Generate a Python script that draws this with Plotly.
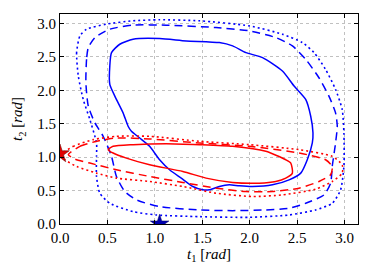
import plotly.graph_objects as go

# Contour outlines (t1, t2 in rad)
blue_solid_x = [1.05, 0.77, 0.63, 0.543, 0.525, 0.525, 0.578, 0.665, 0.718, 0.753, 0.84, 0.945, 1.05, 1.155, 1.278, 1.40, 1.505, 1.575, 1.68, 1.785, 1.89, 2.03, 2.24, 2.415, 2.538, 2.607, 2.66, 2.667, 2.643, 2.59, 2.468, 2.345, 2.135, 1.96, 1.82, 1.68, 1.33, 1.05]
blue_solid_y = [2.774, 2.764, 2.689, 2.564, 2.364, 2.088, 1.913, 1.663, 1.462, 1.387, 1.287, 1.162, 0.961, 0.811, 0.686, 0.561, 0.511, 0.511, 0.561, 0.586, 0.571, 0.561, 0.586, 0.661, 0.761, 0.961, 1.212, 1.362, 1.612, 1.863, 2.063, 2.288, 2.489, 2.564, 2.664, 2.714, 2.739, 2.774]

blue_dash_x = [0.298, 0.28, 0.273, 0.298, 0.368, 0.455, 0.543, 0.595, 0.683, 0.805, 1.05, 1.47, 1.82, 2.17, 2.415, 2.59, 2.783, 2.853, 2.87, 2.905, 2.923, 2.905, 2.835, 2.73, 2.59, 2.45, 2.275, 1.995, 1.645, 1.12, 0.77, 0.525, 0.368, 0.298]
blue_dash_y = [2.639, 2.464, 2.113, 1.763, 1.512, 1.312, 1.012, 0.711, 0.486, 0.361, 0.26, 0.21, 0.20, 0.21, 0.235, 0.31, 0.436, 0.611, 0.861, 1.212, 1.462, 1.663, 1.913, 2.188, 2.464, 2.664, 2.789, 2.889, 2.939, 2.975, 2.975, 2.914, 2.789, 2.639]

blue_dot_x = [0.21, 0.175, 0.193, 0.245, 0.315, 0.385, 0.385, 0.385, 0.42, 0.525, 0.77, 1.015, 1.47, 1.995, 2.415, 2.695, 2.87, 2.958, 2.993, 2.993, 2.975, 2.905, 2.80, 2.678, 2.555, 2.345, 1.995, 1.47, 1.05, 0.77, 0.49, 0.28, 0.21]
blue_dot_y = [2.814, 2.564, 2.213, 1.863, 1.562, 1.212, 1.012, 0.711, 0.461, 0.31, 0.185, 0.135, 0.11, 0.10, 0.135, 0.21, 0.31, 0.511, 0.861, 1.362, 1.713, 2.013, 2.313, 2.564, 2.714, 2.839, 2.964, 3.04, 3.055, 3.04, 2.99, 2.914, 2.814]

red_solid_x = [0.508, 0.56, 0.77, 1.12, 1.47, 1.82, 2.17, 2.38, 2.433, 2.45, 2.38, 2.275, 2.10, 1.82, 1.54, 1.295, 0.945, 0.70, 0.56, 0.508]
red_solid_y = [1.112, 1.162, 1.187, 1.202, 1.187, 1.162, 1.087, 0.961, 0.911, 0.761, 0.686, 0.636, 0.611, 0.621, 0.686, 0.786, 0.886, 0.986, 1.062, 1.112]

red_dash_x = [0.088, 0.21, 0.385, 0.595, 0.945, 1.47, 1.995, 2.52, 2.80, 2.87, 2.853, 2.73, 2.52, 2.24, 1.96, 1.645, 1.295, 0.945, 0.595, 0.315, 0.158, 0.088]
red_dash_y = [1.037, 1.162, 1.237, 1.287, 1.272, 1.212, 1.162, 1.062, 0.961, 0.861, 0.736, 0.636, 0.536, 0.486, 0.486, 0.536, 0.621, 0.711, 0.811, 0.911, 0.971, 1.037]

red_dot_x = [0.018, 0.14, 0.35, 0.595, 0.945, 1.47, 1.995, 2.52, 2.87, 2.975, 2.975, 2.87, 2.695, 2.345, 2.03, 1.645, 1.295, 0.945, 0.595, 0.385, 0.175, 0.053, 0.018]
red_dot_y = [1.037, 1.162, 1.262, 1.312, 1.312, 1.237, 1.187, 1.112, 1.012, 0.886, 0.761, 0.636, 0.521, 0.436, 0.411, 0.461, 0.561, 0.636, 0.686, 0.761, 0.861, 0.961, 1.037]

star_blue = (1.05, 0.0)
star_red = (0.0, 1.05)

tick_vals = [0.0, 0.5, 1.0, 1.5, 2.0, 2.5, 3.0]
tick_text = ["0.0", "0.5", "1.0", "1.5", "2.0", "2.5", "3.0"]

FONT = "Liberation Serif, DejaVu Serif, serif"

fig = go.Figure()

def add_line(x, y, color, dash, width=1.5):
    fig.add_trace(go.Scatter(x=x, y=y, mode="lines",
                             line=dict(color=color, width=width, dash=dash, shape="spline", smoothing=0.6),
                             showlegend=False, hoverinfo="skip"))

add_line(blue_dot_x, blue_dot_y, "#0000ff", "2px,3px", 1.6)
add_line(blue_dash_x, blue_dash_y, "#0000ff", "8px,5px")
add_line(blue_solid_x, blue_solid_y, "#0000ff", "solid")
add_line(red_dot_x, red_dot_y, "#ff0000", "2px,3px", 1.6)
add_line(red_dash_x, red_dash_y, "#ff0000", "8px,5px")
add_line(red_solid_x, red_solid_y, "#ff0000", "solid")

fig.add_trace(go.Scatter(x=[star_blue[0]], y=[star_blue[1]], mode="markers",
                         marker=dict(symbol="star", size=14, color="#0000b0",
                                     line=dict(color="#000060", width=0.5)),
                         showlegend=False, cliponaxis=True, hoverinfo="skip"))
fig.add_trace(go.Scatter(x=[star_red[0]], y=[star_red[1]], mode="markers",
                         marker=dict(symbol="star", size=14, color="#e00000",
                                     line=dict(color="#600000", width=0.5)),
                         showlegend=False, cliponaxis=True, hoverinfo="skip"))

axis_common = dict(
    range=[0, 3.14159], tickvals=tick_vals, ticktext=tick_text,
    showgrid=True, gridcolor="#c0c0c0", griddash="dot", gridwidth=1,
    zeroline=False, showline=True, linecolor="black", linewidth=1.2,
    mirror="ticks", ticks="inside", ticklen=4, tickcolor="black",
    tickfont=dict(family=FONT, size=15, color="black"),
    automargin=False,
)

fig.update_xaxes(**axis_common,
                 title=dict(text="<i>t</i><sub>1</sub> [<i>rad</i>]",
                            font=dict(family=FONT, size=15, color="black"),
                            standoff=1))
fig.update_yaxes(**axis_common,
                 title=dict(text="<i>t</i><sub>2</sub> [<i>rad</i>]",
                            font=dict(family=FONT, size=15, color="black"),
                            standoff=10))

fig.update_layout(
    width=374, height=280,
    margin=dict(l=60, r=16, t=14, b=56),
    paper_bgcolor="white", plot_bgcolor="white",
    font=dict(family=FONT, color="black"),
    hovermode=False,
)

fig.write_html("out.html", config={"displayModeBar": False},
               post_script="document.body.style.margin='0';document.body.style.padding='0';")
